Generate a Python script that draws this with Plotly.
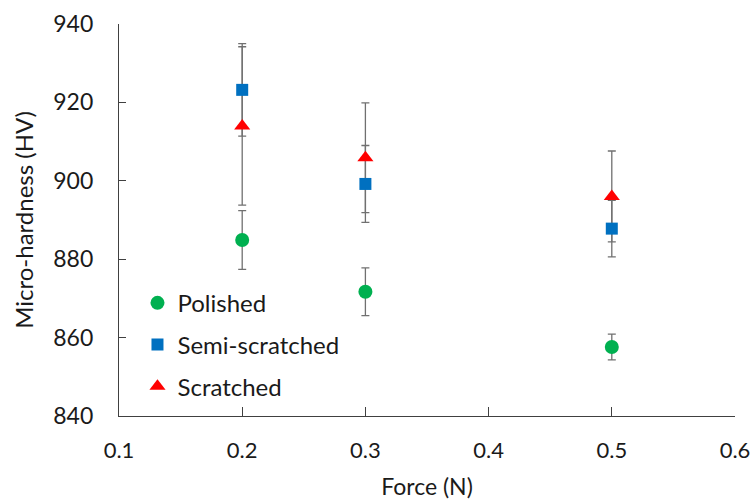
import plotly.graph_objects as go

force = [0.2, 0.3, 0.5]
polished = [884.9, 871.7, 857.6]
polished_err = [7.5, 6.1, 3.3]
semi = [923.2, 899.2, 887.8]
semi_err = [11.8, 9.8, 7.2]
scratched = [914.0, 905.9, 896.0]
scratched_err = [20.2, 14.0, 11.6]

series = [
    ("Polished", polished, polished_err, "circle", "#00B050", 14),
    ("Semi-scratched", semi, semi_err, "square", "#0070C0", 12),
    ("Scratched", scratched, scratched_err, "triangle-up", "#FF0000", 14),
]

FONT = "Lato"
fig = go.Figure()

# error bars first (beneath all markers)
for name, vals, errs, sym, col, sz in series:
    fig.add_trace(go.Scatter(
        x=force, y=vals, mode="markers", showlegend=False, hoverinfo="skip",
        marker=dict(size=sz, color="rgba(0,0,0,0)"),
        error_y=dict(type="data", array=errs, visible=True, color="#707070",
                     thickness=1.3, width=4),
    ))

for i, (name, vals, errs, sym, col, sz) in enumerate(series):
    fig.add_trace(go.Scatter(
        x=force, y=vals, mode="markers", name=name, legendgroup=name,
        marker=dict(symbol=sym, size=sz, color=col, line=dict(width=0)),
    ))

fig.update_layout(
    width=751, height=500,
    margin=dict(l=119, r=16, t=24, b=84, autoexpand=False),
    paper_bgcolor="white", plot_bgcolor="white",
    font=dict(family=FONT, size=23, color="#1a1a1a"),
    legend=dict(x=0.03, y=0.345, xanchor="left", yanchor="top",
                bgcolor="rgba(0,0,0,0)", tracegroupgap=7.5, itemwidth=30,
                traceorder="grouped", font=dict(size=24, family=FONT)),
    xaxis=dict(range=[0.1, 0.6], tickvals=[0.1, 0.2, 0.3, 0.4, 0.5, 0.6],
               ticktext=["0.1", "0.2", "0.3", "0.4", "0.5", "0.6"],
               tickfont=dict(size=22), ticklabeloverflow="allow",
               automargin=False,
               showgrid=False, zeroline=False, showline=True, linecolor="#404040",
               linewidth=1.3, ticks="inside", ticklen=9, tickcolor="#404040",
               ticklabelstandoff=14,
               title=dict(text="Force (N)", font=dict(size=23), standoff=18)),
    yaxis=dict(range=[840, 940], tickvals=[840, 860, 880, 900, 920, 940],
               automargin=False,
               showgrid=False, zeroline=False, showline=True, linecolor="#404040",
               linewidth=1.3, ticks="inside", ticklen=7, tickcolor="#404040",
               ticklabelstandoff=20,
               title=dict(text="Micro-hardness (HV)", font=dict(size=24), standoff=12)),
)

fig.write_html("out.html")
